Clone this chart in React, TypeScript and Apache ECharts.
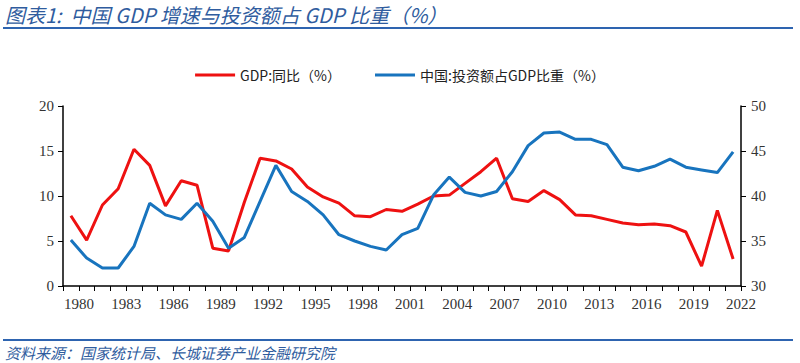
import React, { useEffect, useRef } from "react";
import * as echarts from "echarts";

const years: string[] = [];
for (let y = 1980; y <= 2022; y++) years.push(String(y));

const gdpGrowth = [
  7.8, 5.1, 9.0, 10.8, 15.2, 13.4, 8.9, 11.7, 11.2, 4.2,
  3.9, 9.3, 14.2, 13.9, 13.0, 11.0, 9.9, 9.2, 7.8, 7.7,
  8.5, 8.3, 9.1, 10.0, 10.1, 11.4, 12.7, 14.2, 9.7, 9.4,
  10.6, 9.6, 7.9, 7.8, 7.4, 7.0, 6.8, 6.9, 6.7, 6.0,
  2.2, 8.4, 3.0,
];

const investShare = [
  35.1, 33.1, 32.0, 32.0, 34.4, 39.2, 37.9, 37.4, 39.2, 37.2,
  34.2, 35.4, 39.4, 43.4, 40.5, 39.4, 37.9, 35.7, 35.0, 34.4,
  34.0, 35.7, 36.4, 40.1, 42.1, 40.4, 40.0, 40.5, 42.7, 45.6,
  47.0, 47.1, 46.3, 46.3, 45.7, 43.2, 42.8, 43.3, 44.1, 43.2,
  42.9, 42.6, 44.9,
];

const leftTicks = { min: 0, max: 20, interval: 5 };
const rightTicks = { min: 30, max: 50, interval: 5 };

const titleText = "图表1:  中国 GDP 增速与投资额占 GDP 比重（%）";
const sourceText = "资料来源：国家统计局、长城证券产业金融研究院";
const seriesNames = ["GDP:同比（%）", "中国:投资额占GDP比重（%）"];

export default function App() {
  const ref = useRef<HTMLDivElement>(null);
  useEffect(() => {
    if (!ref.current) return;
    document.body.style.margin = "0";
    const chart = echarts.init(ref.current, undefined, { renderer: "svg" });
    const axisFont = { fontFamily: "Liberation Serif", fontSize: 15, color: "#333" };
    chart.setOption({
      animation: false,
      backgroundColor: "#fff",
      grid: { left: 63, right: 59, top: 106, bottom: 77 },
      legend: {
        top: 63,
        left: "center",
        itemWidth: 40,
        itemHeight: 3,
        itemGap: 34,
        icon: "rect",
        textStyle: { fontFamily: "Noto Sans CJK SC", fontSize: 14, color: "#222" },
        data: seriesNames,
      },
      graphic: [
        {
          type: "text",
          left: 5,
          top: 2,
          style: {
            text: titleText,
            fontFamily: "Noto Sans CJK SC",
            fontSize: 20,
            lineHeight: 24,
            fontStyle: "italic",
            fill: "#2F5C9E",
          },
        },
        {
          type: "rect",
          shape: { x: 3, y: 27, width: 790, height: 2 },
          style: { fill: "#2E64B0" },
        },
        {
          type: "rect",
          shape: { x: 3, y: 339, width: 790, height: 2 },
          style: { fill: "#2E64B0" },
        },
        {
          type: "text",
          left: 5,
          top: 343,
          style: {
            text: sourceText,
            fontFamily: "Noto Sans CJK SC",
            fontSize: 15,
            lineHeight: 18,
            fontStyle: "italic",
            fill: "#2F5C9E",
          },
        },
      ],
      xAxis: {
        type: "category",
        data: years,
        boundaryGap: true,
        axisLine: { lineStyle: { color: "#000", width: 1.5 } },
        axisTick: { show: true, interval: 0, length: 5, lineStyle: { color: "#000" } },
        axisLabel: { interval: 2, margin: 10, padding: [0, 0, 0, 16], ...axisFont },
      },
      yAxis: [
        {
          type: "value",
          ...leftTicks,
          splitLine: { show: false },
          axisLine: { show: true, lineStyle: { color: "#000", width: 1.5 } },
          axisTick: { show: true, length: 5, lineStyle: { color: "#000" } },
          axisLabel: { margin: 9, ...axisFont },
        },
        {
          type: "value",
          position: "right",
          ...rightTicks,
          splitLine: { show: false },
          axisLine: { show: true, lineStyle: { color: "#000", width: 1.5 } },
          axisTick: { show: true, length: 5, lineStyle: { color: "#000" } },
          axisLabel: { margin: 10, ...axisFont },
        },
      ],
      series: [
        {
          name: seriesNames[0],
          type: "line",
          data: gdpGrowth,
          yAxisIndex: 0,
          symbol: "none",
          lineStyle: { color: "#EE1111", width: 3 },
          itemStyle: { color: "#EE1111" },
        },
        {
          name: seriesNames[1],
          type: "line",
          data: investShare,
          yAxisIndex: 1,
          symbol: "none",
          lineStyle: { color: "#1874BE", width: 3 },
          itemStyle: { color: "#1874BE" },
        },
      ],
    });
    return () => chart.dispose();
  }, []);
  return <div ref={ref} style={{ width: 800, height: 363 }} />;
}
